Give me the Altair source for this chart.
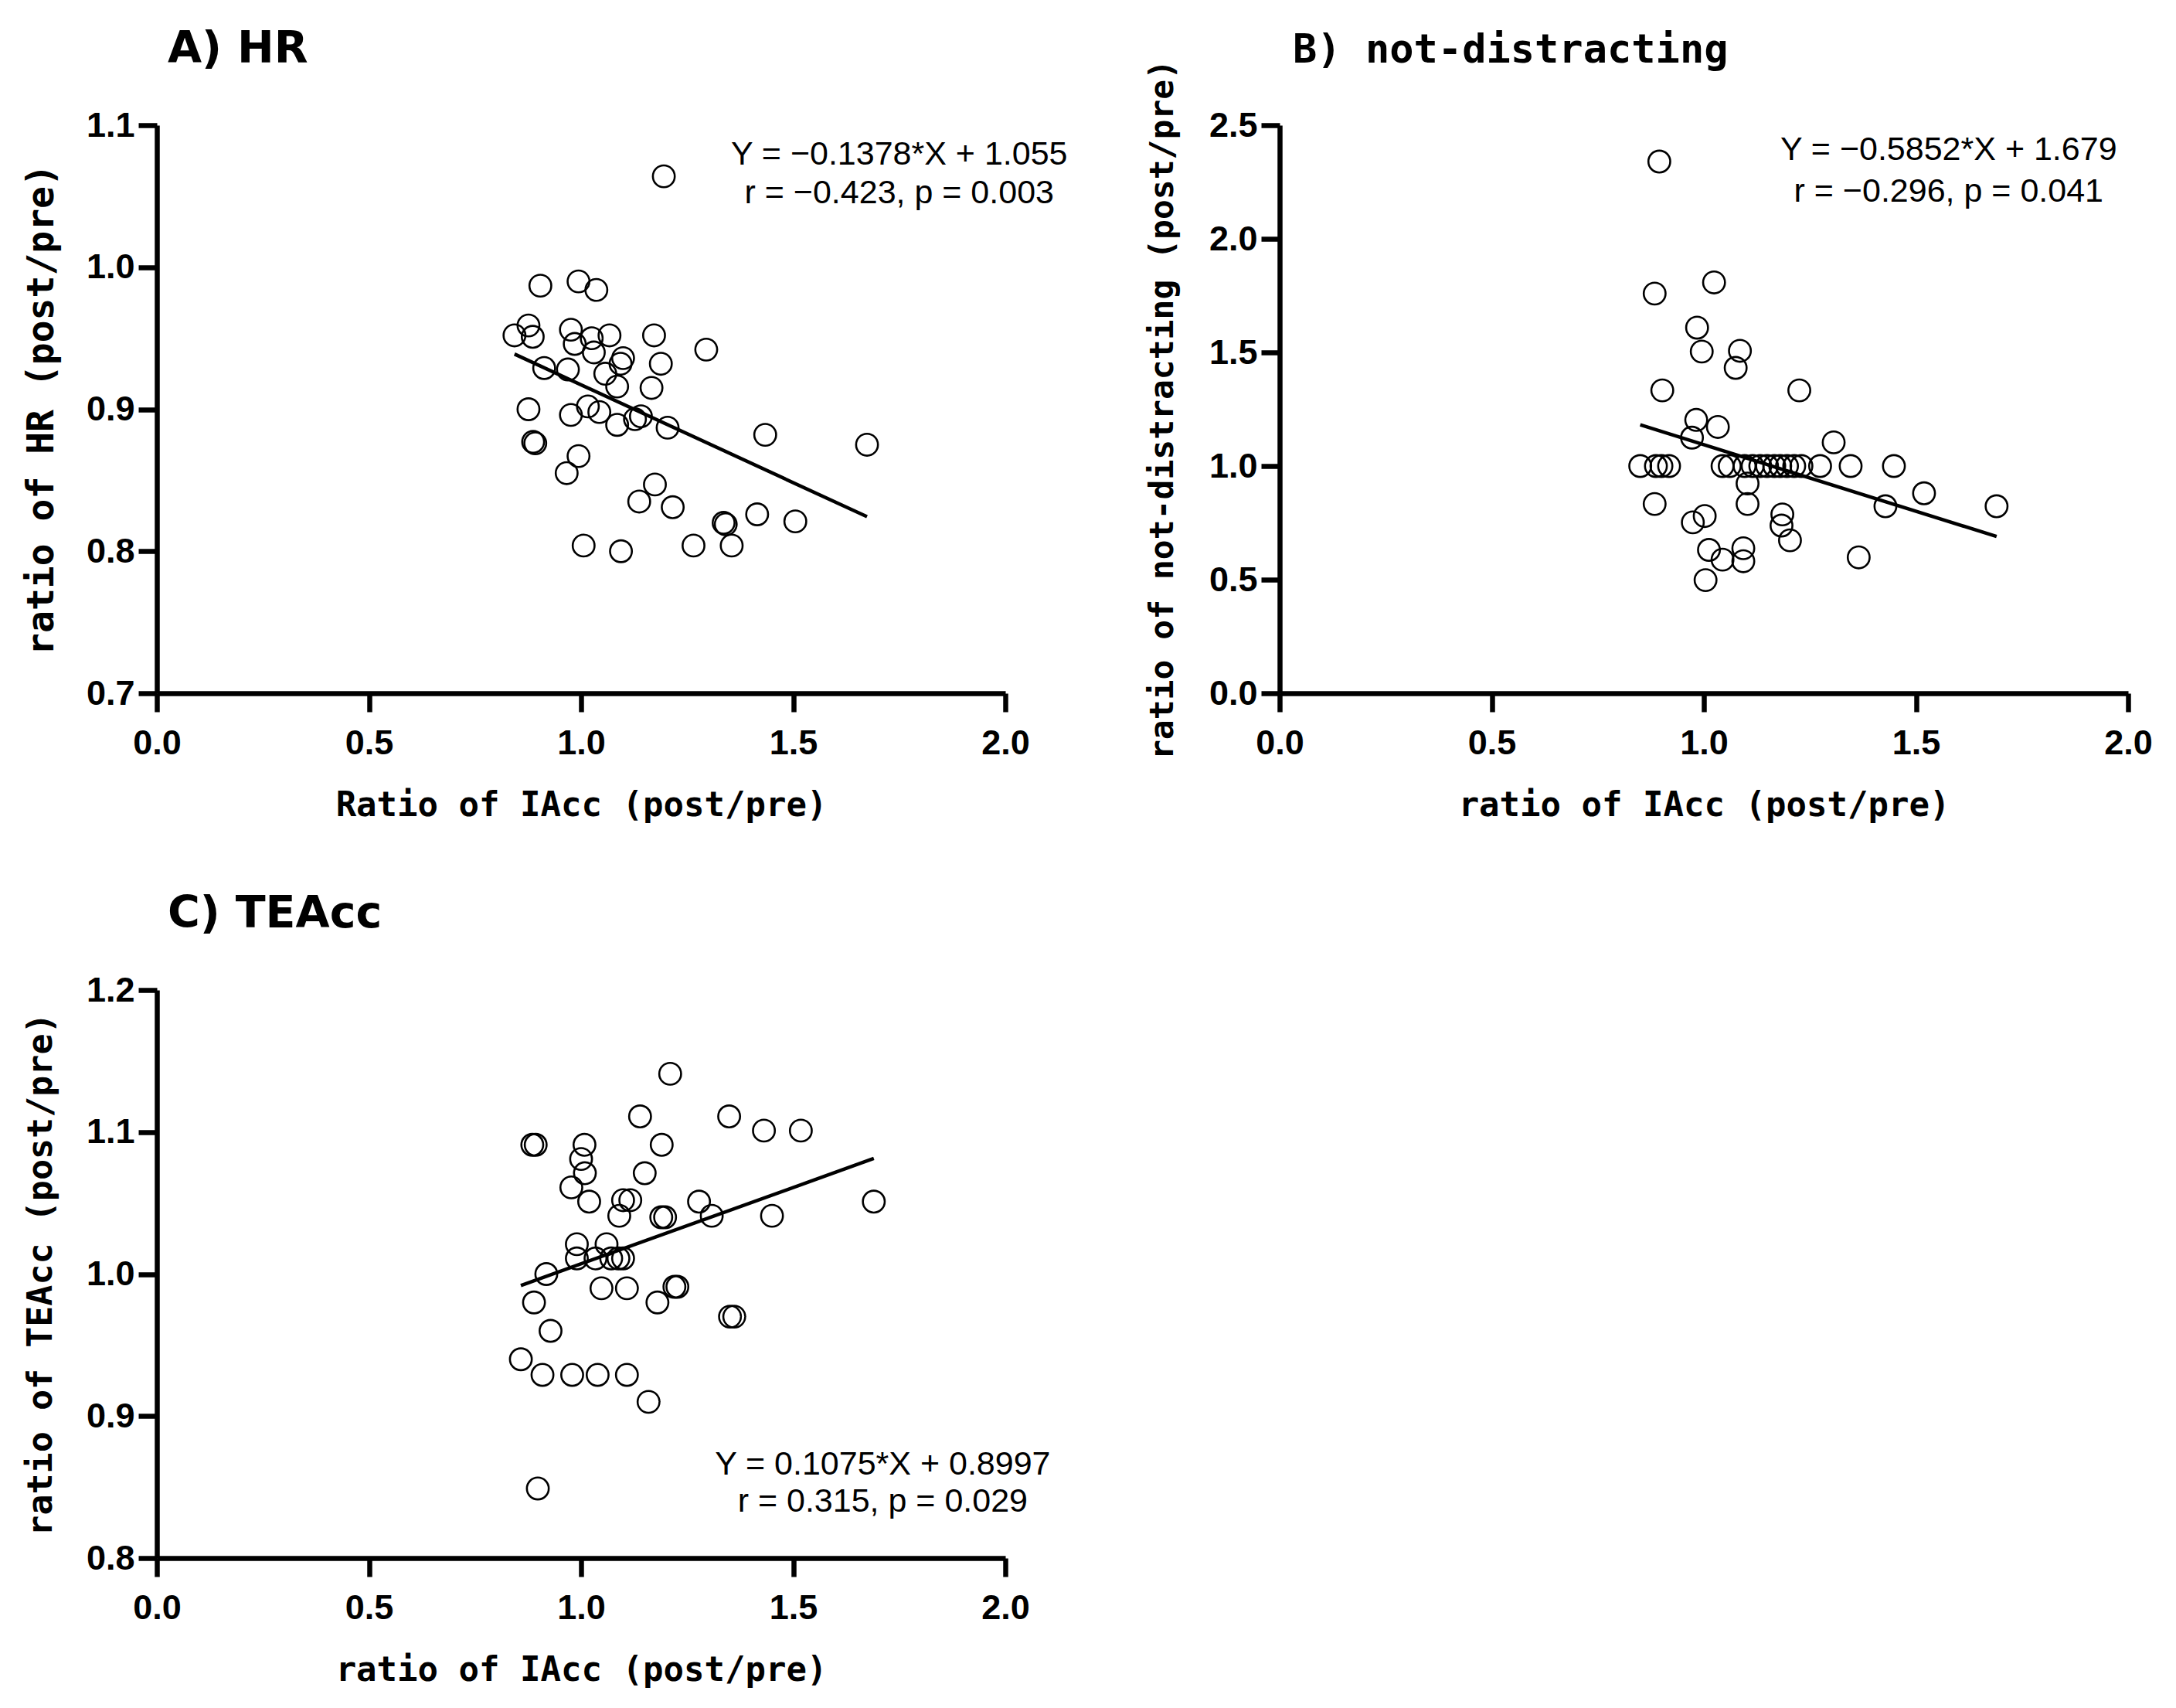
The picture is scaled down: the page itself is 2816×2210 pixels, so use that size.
import altair as alt
import pandas as pd

# ---------------- data ----------------
X_TICKS = [0.0, 0.5, 1.0, 1.5, 2.0]

# A) HR
hr_x = [1.195, 0.904, 0.994, 1.036, 0.876, 0.843, 0.886, 0.976, 1.067, 1.172,
        1.025, 0.985, 1.030, 1.295, 0.913, 0.969, 1.099, 1.093, 1.057, 1.188,
        1.085, 1.166, 0.876, 0.976, 1.016, 1.043, 1.085, 1.127, 1.141, 1.204,
        1.434, 1.674, 0.887, 0.892, 0.994, 0.966, 1.174, 1.137, 1.216, 1.336,
        1.341, 1.415, 1.505, 1.006, 1.094, 1.265, 1.355]
hr_y = [1.064, 0.987, 0.990, 0.984, 0.959, 0.952, 0.951, 0.956, 0.952, 0.952,
        0.950, 0.946, 0.940, 0.942, 0.929, 0.928, 0.936, 0.932, 0.925, 0.932,
        0.916, 0.915, 0.900, 0.896, 0.902, 0.898, 0.889, 0.893, 0.895, 0.887,
        0.882, 0.875, 0.877, 0.876, 0.867, 0.855, 0.847, 0.835, 0.831, 0.820,
        0.819, 0.826, 0.821, 0.804, 0.800, 0.804, 0.804]
hr_fit = (-0.1378, 1.055)
hr_eq = ["Y = \u22120.1378*X + 1.055", "r = \u22120.423, p = 0.003"]
HR_TICKS = [0.7, 0.8, 0.9, 1.0, 1.1]

# B) not-distracting
nd_x = [0.895, 0.884, 1.024, 0.984, 0.995, 1.085, 1.075, 0.902, 1.225, 0.982,
        1.033, 0.972, 1.306, 1.103, 0.884, 1.103, 1.519, 1.428, 1.690, 1.002,
        0.974, 1.185, 1.183, 1.203, 1.012, 1.093, 1.044, 1.093, 1.365, 1.004,
        0.850, 0.887, 0.900, 0.918, 1.044, 1.061, 1.096, 1.115, 1.133, 1.149,
        1.166, 1.180, 1.196, 1.213, 1.230, 1.274, 1.346, 1.448]
nd_y = [2.340, 1.759, 1.808, 1.609, 1.504, 1.507, 1.432, 1.333, 1.333, 1.203,
        1.172, 1.125, 1.104, 0.923, 0.833, 0.833, 0.880, 0.823, 0.823, 0.780,
        0.752, 0.787, 0.738, 0.673, 0.631, 0.638, 0.588, 0.581, 0.598, 0.498,
        1.000, 1.000, 1.000, 1.000, 1.000, 1.000, 1.000, 1.000, 1.000, 1.000,
        1.000, 1.000, 1.000, 1.000, 1.000, 1.000, 1.000, 1.000]
nd_fit = (-0.5852, 1.679)
nd_eq = ["Y = \u22120.5852*X + 1.679", "r = \u22120.296, p = 0.041"]
ND_TICKS = [0.0, 0.5, 1.0, 1.5, 2.0, 2.5]

# C) TEAcc
te_x = [1.210, 1.139, 1.349, 1.431, 1.518, 0.885, 0.893, 1.008, 1.190, 1.000,
        1.009, 1.150, 0.977, 1.019, 1.099, 1.116, 1.278, 1.690, 1.090, 1.189,
        1.198, 1.308, 1.450, 0.990, 1.060, 0.990, 1.034, 1.071, 1.088, 1.099,
        0.918, 0.889, 1.048, 1.108, 1.220, 1.227, 1.180, 0.928, 1.351, 1.361,
        0.858, 0.909, 0.979, 1.039, 1.108, 1.159, 0.898]
te_y = [1.141, 1.111, 1.111, 1.101, 1.101, 1.091, 1.091, 1.091, 1.091, 1.081,
        1.071, 1.071, 1.061, 1.051, 1.052, 1.052, 1.051, 1.051, 1.041, 1.040,
        1.040, 1.041, 1.041, 1.021, 1.021, 1.011, 1.011, 1.011, 1.011, 1.011,
        1.000, 0.980, 0.990, 0.990, 0.991, 0.991, 0.980, 0.960, 0.970, 0.970,
        0.940, 0.929, 0.929, 0.929, 0.929, 0.910, 0.849]
te_fit = (0.1075, 0.8997)
te_eq = ["Y = 0.1075*X + 0.8997", "r = 0.315, p = 0.029"]
TE_TICKS = [0.8, 0.9, 1.0, 1.1, 1.2]

# ---------------- layout constants ----------------
PW, PH = 1098, 735


def panel(xs, ys, fit, eq, ann_x, ann_y, title, title_font, title_size,
          title_dx, title_dy, xtitle, ytitle, ydom, yticks, ytitle_size,
          ytitle_pad):
    pts = pd.DataFrame({"x": xs, "y": ys})
    x0, x1 = min(xs), max(xs)
    line = pd.DataFrame({"x": [x0, x1],
                         "y": [fit[0] * x0 + fit[1], fit[0] * x1 + fit[1]]})
    ann = pd.DataFrame({"x": [ann_x, ann_x], "y": list(ann_y), "t": eq})

    xenc = alt.X("x:Q",
                 scale=alt.Scale(domain=[0, 2], nice=False, zero=False),
                 axis=alt.Axis(values=X_TICKS, format=".1f", title=xtitle,
                               titleFontSize=44, titlePadding=36,
                               labelPadding=18, labelFlush=False,
                               labelOverlap=False))
    yenc = alt.Y("y:Q",
                 scale=alt.Scale(domain=ydom, nice=False, zero=False),
                 axis=alt.Axis(values=yticks, format=".1f", title=ytitle,
                               titleFontSize=ytitle_size,
                               titlePadding=ytitle_pad, labelPadding=5,
                               labelFlush=False, labelOverlap=False))

    p = alt.Chart(pts).mark_point(shape="circle", filled=False, size=800,
                                  strokeWidth=2.6, color="black",
                                  opacity=1).encode(x=xenc, y=yenc)
    l = alt.Chart(line).mark_line(color="black", strokeWidth=4.5).encode(
        x="x:Q", y="y:Q")
    t = alt.Chart(ann).mark_text(font="Liberation Sans", fontSize=43,
                                 color="black", align="center",
                                 baseline="middle").encode(
        x="x:Q", y="y:Q", text="t:N")
    return alt.layer(p, l, t).properties(
        width=PW, height=PH,
        title=alt.TitleParams(title, anchor="start", frame="group",
                              dx=title_dx, dy=title_dy, offset=70,
                              font=title_font, fontSize=title_size,
                              fontWeight="bold", color="black"))


A = panel(hr_x, hr_y, hr_fit, hr_eq, 1.750, (1.0795, 1.0522),
          "A) HR", "DejaVu Sans", 57, 14, 23,
          "Ratio of IAcc (post/pre)", "ratio of HR (post/pre)",
          [0.7, 1.1], HR_TICKS, 48, 33)
B = panel(nd_x, nd_y, nd_fit, nd_eq, 1.577, (2.39, 2.207),
          "B) not-distracting", "DejaVu Sans Mono", 52, 17, 86,
          "ratio of IAcc (post/pre)", "ratio of not-distracting (post/pre)",
          [0.0, 2.5], ND_TICKS, 43, 38)
C = panel(te_x, te_y, te_fit, te_eq, 1.711, (0.866, 0.840),
          "C) TEAcc", "DejaVu Sans", 57, 14, 23,
          "ratio of IAcc (post/pre)", "ratio of TEAcc (post/pre)",
          [0.8, 1.2], TE_TICKS, 45, 36)

chart = alt.concat(
    A, B, C, columns=2, spacing={"row": 384, "column": 355}, bounds="flush",
    padding={"left": 22, "top": 27, "right": 5, "bottom": 5},
    background="white",
).configure_view(stroke=None).configure_axis(
    domainColor="black", domainWidth=6.5, tickColor="black", tickWidth=6.5,
    tickSize=24, labelFont="Liberation Sans", labelFontWeight="bold",
    labelFontSize=45, labelColor="black", titleFont="DejaVu Sans Mono",
    titleFontWeight="bold", titleColor="black", grid=False)

chart.save("out.html", embed_options={"renderer": "svg", "actions": False})
